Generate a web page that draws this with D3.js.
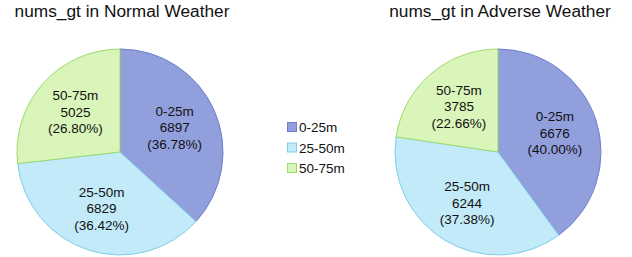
<!DOCTYPE html>
<html>
<head>
<meta charset="utf-8">
<script src="https://cdn.jsdelivr.net/npm/d3@7"></script>
<style>
  body { margin: 0; background: #fff; }
  text { font-family: "Liberation Sans", Arial, sans-serif; fill: #111; }
</style>
</head>
<body>
<div id="viz"></div>
<script>
const categories = ["0-25m", "25-50m", "50-75m"];
const normalValues = [6897, 6829, 5025];
const normalPercents = ["36.78", "36.42", "26.80"];
const adverseValues = [6676, 6244, 3785];
const adversePercents = ["40.00", "37.38", "22.66"];
const titles = ["nums_gt in Normal Weather", "nums_gt in Adverse Weather"];

const fillColor = d3.scaleOrdinal().domain(categories).range(["#929fdd", "#c2eaf8", "#d9f5b9"]);
const strokeColor = d3.scaleOrdinal().domain(categories).range(["#6c7fcf", "#7fcdec", "#9bdc6b"]);

const width = 632, height = 257;
const radius = 103;

const svg = d3.select("#viz").append("svg")
    .attr("width", width)
    .attr("height", height);

const pie = d3.pie().sort(null).value(d => d.value);
const arc = d3.arc().innerRadius(0).outerRadius(radius);
const labelArc = d3.arc().innerRadius(radius * 0.58).outerRadius(radius * 0.58);

function drawPie(values, percents, title, cx, cy) {
    const data = categories.map((c, i) => ({ cat: c, value: values[i], pct: percents[i] }));
    const g = svg.append("g").attr("transform", `translate(${cx}, ${cy})`);

    g.selectAll("path")
        .data(pie(data))
        .enter().append("path")
            .attr("d", arc)
            .attr("fill", d => fillColor(d.data.cat))
            .attr("stroke", d => strokeColor(d.data.cat))
            .attr("stroke-width", 1);

    g.selectAll("text.lbl")
        .data(pie(data))
        .enter().append("text")
            .attr("class", "lbl")
            .attr("text-anchor", "middle")
            .attr("font-size", 13.5)
            .attr("transform", d => `translate(${labelArc.centroid(d)})`)
            .each(function(d) {
                const lines = [d.data.cat, d.data.value, `(${d.data.pct}%)`];
                d3.select(this).selectAll("tspan")
                    .data(lines)
                    .enter().append("tspan")
                        .attr("x", 0)
                        .attr("y", (l, i) => (i - 1) * 16.5 + 4.5)
                        .text(l => l);
            });

    svg.append("text")
        .attr("x", cx + 2)
        .attr("y", 17)
        .attr("text-anchor", "middle")
        .attr("font-size", 17.3)
        .text(title);
}

drawPie(normalValues, normalPercents, titles[0], 120, 152);
drawPie(adverseValues, adversePercents, titles[1], 498, 152);

const legend = svg.append("g").attr("transform", "translate(287, 127)");
const item = legend.selectAll("g")
    .data(categories)
    .enter().append("g")
        .attr("transform", (d, i) => `translate(0, ${i * 20.5})`);

item.append("rect")
    .attr("x", 0.5)
    .attr("y", -4.5)
    .attr("width", 9)
    .attr("height", 9)
    .attr("fill", d => fillColor(d))
    .attr("stroke", d => strokeColor(d));

item.append("text")
    .attr("x", 12)
    .attr("y", 5)
    .attr("font-size", 13.5)
    .text(d => d);
</script>
</body>
</html>
